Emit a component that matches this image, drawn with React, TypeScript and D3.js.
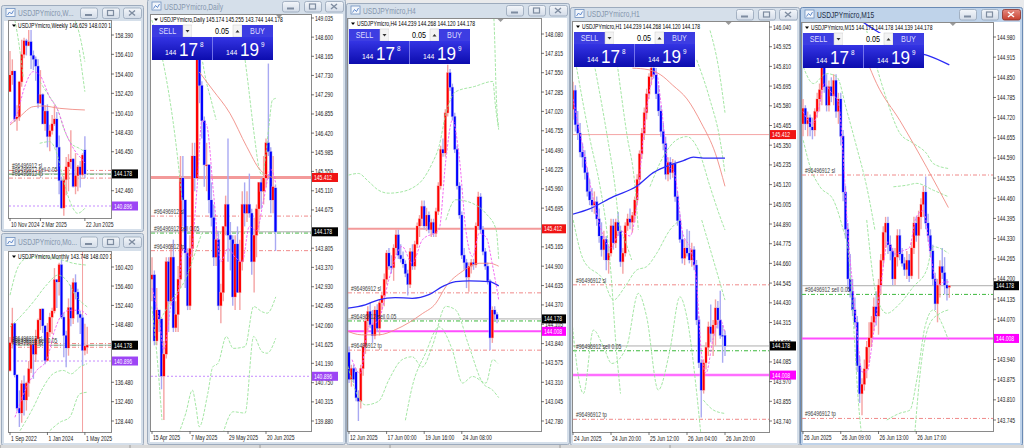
import React from 'react';
import * as d3 from 'd3';

const FONT = "'Liberation Sans', Arial, sans-serif";
const SX = 0.72;

// ---------- price levels ----------
const SL = 144.535;
const SELL = 144.15;
const TP = 143.75;
const ALERT = 145.412;
const MAG = 144.008;
const PURP = 140.896;
const BID = 144.178;

// ---------- Weekly ----------
const weeklyCandles = [
  [152.6, 156.75, 152.6, 154.3], [154.3, 155.9, 153.3, 154.7], [154.7, 154.7, 149.5, 149.8], [149.8, 151.2, 148.6, 150.0],
  [150.0, 153.7, 149.6, 153.6], [153.6, 157.9, 153.1, 156.4], [156.4, 158.1, 156.0, 157.8], [157.8, 158.0, 156.3, 157.3],
  [157.3, 158.9, 157.3, 157.7], [157.7, 158.9, 154.9, 156.3], [156.3, 156.8, 154.8, 155.9], [155.9, 156.2, 153.7, 155.2],
  [155.2, 155.9, 150.9, 151.4], [151.4, 154.8, 151.3, 152.3], [152.3, 152.4, 149.3, 149.3], [149.3, 151.2, 148.6, 150.6],
  [150.6, 151.3, 146.9, 148.0], [148.0, 149.2, 146.5, 148.6], [148.6, 150.2, 148.2, 149.3], [149.3, 151.2, 149.1, 149.8],
  [149.8, 150.5, 144.6, 146.9], [146.9, 148.1, 142.1, 143.5], [143.5, 143.9, 140.6, 140.7], [140.7, 144.0, 139.9, 143.6],
  [143.6, 145.9, 142.0, 144.9], [144.9, 146.2, 142.4, 145.4], [145.4, 148.65, 144.7, 145.7], [145.7, 145.8, 142.8, 142.9],
  [142.9, 146.3, 142.1, 144.0], [144.0, 145.1, 142.4, 144.9], [144.9, 145.5, 142.8, 144.1], [144.1, 146.3, 143.9, 146.1],
  [146.629, 148.02, 143.744, 144.178],
];
const weeklyTicks = [158.39, 156.41, 154.4, 152.42, 150.41, 148.43, 146.45, 142.46];
const weeklyTimes: [string, number][] = [['10 Nov 2024', 0], ['2 Mar 2025', 13], ['22 Jun 2025', 32]];
const weeklyPink = [[0, 149.36], [2.8, 150.21], [6.3, 153.11], [9.9, 154.64], [12.7, 154.3], [16.9, 152.08], [20.4, 150.72], [23.9, 148.33], [27.5, 146.63], [31, 145.61], [32, 145.3]];
const weeklySalmon = [[0, 149.18], [4.2, 150.04], [9.9, 151.06], [14.1, 151.13], [21.1, 150.89], [32, 150.72]];
const weeklyGreenA = [[12.7, 153.62], [16.9, 152.08], [20.4, 150.72], [23.2, 148.67], [26.1, 147.31], [29.6, 146.8], [32, 146.46]];
const weeklyGreenB = [[12.7, 147.31], [16.9, 147.48], [20.4, 145.95], [22.5, 143.9], [25.4, 141.51], [28.9, 140.15], [32, 140.66]];
const weeklyGreenC = [[26.1, 160.6], [29.6, 158.56], [32, 155.66]];
const weeklyGreenD = [[29.6, 156.86], [32, 152.59]];
const weeklyGreenE = [[2.1, 159.9], [4.2, 156.86], [5.6, 154.13]];

// ---------- Monthly ----------
const monthlyCandles = [
  [138.9, 145.9, 138.7, 144.7], [144.7, 151.95, 143.5, 148.7], [148.7, 148.8, 137.5, 138.0], [138.0, 138.2, 130.5, 131.1],
  [131.1, 134.8, 127.2, 130.1], [130.1, 136.9, 128.1, 136.2], [136.2, 137.9, 129.6, 132.8], [132.8, 136.6, 130.6, 136.3],
  [136.3, 140.9, 133.5, 139.3], [139.3, 145.0, 138.4, 144.3], [144.3, 144.9, 137.2, 142.3], [142.3, 147.4, 140.7, 145.5],
  [145.5, 149.7, 144.4, 149.4], [149.4, 151.7, 147.3, 151.7], [151.7, 151.9, 146.7, 148.2], [148.2, 148.3, 140.2, 141.0],
  [141.0, 148.8, 140.8, 146.9], [146.9, 150.9, 145.9, 150.0], [150.0, 151.97, 146.5, 151.3], [151.3, 160.2, 150.8, 157.8],
  [157.8, 157.9, 151.9, 157.3], [157.3, 161.3, 154.5, 160.9], [160.9, 161.95, 149.6, 150.0], [150.0, 150.9, 141.7, 146.2],
  [146.2, 147.2, 139.6, 143.6], [143.6, 153.9, 142.0, 152.0], [152.0, 156.75, 148.1, 149.8], [149.8, 158.1, 148.6, 157.2],
  [157.2, 158.9, 153.7, 155.2], [155.2, 155.9, 148.9, 150.6], [150.6, 151.3, 146.5, 149.9], [149.9, 150.5, 139.9, 143.1],
  [143.1, 148.65, 142.1, 144.0], [143.748, 148.02, 142.4, 144.178],
];
const monthlyTicks = [160.42, 156.46, 152.44, 148.48, 136.48, 132.46, 128.44];
const monthlyTimes: [string, number][] = [['1 Sep 2022', 0], ['1 Jan 2024', 16], ['1 May 2025', 32]];
const monthlyPink = [[2.1, 129.21], [7.1, 135.46], [11.4, 138.94], [15.6, 141.02], [19.1, 147.27], [22, 150.4], [25.5, 151.44], [29.8, 151.44], [33, 150.4]];
const monthlyGreenTop = [[0, 154.58], [3.5, 160.49], [7.1, 162.2], [14.2, 162.55], [21.3, 162.0], [27, 161.2], [33, 160.8]];
const monthlyGreen2 = [[0, 147.98], [5.7, 150.76], [10, 153.19], [15.6, 156.67], [20.6, 158.75], [24.1, 157.7], [28.4, 154.23], [33, 152.14]];
const monthlyGreenLow = [[4.3, 126.43], [10, 131.3], [14.2, 135.46], [18.4, 138.24], [22.7, 138.94], [26.2, 138.24], [29.8, 139.63], [33, 140.33]];
const monthlyGreenLow2 = [[17, 126.43], [21.3, 128.17], [25.5, 129.21], [29.8, 134.07], [33, 134.42]];
const monthlyVLines = [31];

// ---------- Daily ----------
const dailyCandles = [
  [143.1, 143.6, 142.6, 143.2], [143.2, 143.3, 141.6, 141.7], [141.7, 142.9, 141.6, 142.4], [142.4, 142.4, 141.9, 142.2],
  [142.2, 142.2, 140.6, 140.9], [140.9, 141.7, 139.9, 141.4], [141.4, 143.6, 141.3, 143.5], [143.5, 143.6, 141.9, 142.6],
  [142.6, 143.9, 142.5, 143.6], [143.6, 144.0, 141.9, 142.0], [142.0, 142.6, 141.9, 142.3], [142.3, 143.4, 141.9, 143.1],
  [143.1, 145.9, 142.9, 145.4], [145.4, 145.9, 144.3, 144.9], [144.9, 144.9, 142.9, 143.7], [143.7, 143.8, 142.4, 142.5],
  [142.5, 144.1, 142.4, 143.8], [143.8, 146.2, 143.6, 145.9], [145.9, 146.2, 145.1, 145.4], [145.4, 148.6, 145.4, 148.4],
  [148.4, 148.6, 147.1, 147.5], [147.5, 147.6, 146.3, 146.7], [146.7, 146.8, 145.2, 145.7], [145.7, 146.2, 145.1, 145.7],
  [145.7, 145.7, 144.6, 144.9], [144.9, 145.3, 144.3, 144.5], [144.5, 144.8, 143.4, 143.6], [143.6, 144.3, 143.4, 144.0],
  [144.0, 144.2, 142.4, 142.5], [142.5, 143.0, 142.1, 142.8], [142.8, 144.3, 142.6, 144.3], [144.3, 145.0, 144.1, 144.8],
  [144.8, 146.3, 143.5, 144.1], [144.1, 144.4, 143.3, 144.0], [144.0, 144.1, 142.5, 142.7], [142.7, 144.1, 142.4, 143.9],
  [143.9, 144.3, 142.8, 142.8], [142.8, 144.0, 142.4, 143.5], [143.5, 145.1, 143.3, 144.8], [144.8, 145.3, 144.3, 144.6],
  [144.6, 145.1, 144.4, 144.8], [144.8, 145.5, 144.5, 144.6], [144.6, 144.7, 143.2, 143.5], [143.5, 144.5, 142.8, 144.1],
  [144.1, 144.8, 143.6, 144.7], [144.7, 145.3, 144.2, 145.3], [145.3, 145.4, 144.7, 145.1], [145.1, 145.9, 144.8, 145.4],
  [145.4, 146.3, 145.2, 146.2], [146.2, 148.0, 145.9, 146.0], [146.0, 146.1, 144.6, 144.9], [144.9, 145.9, 144.6, 145.2],
  [145.174, 145.255, 143.744, 144.178],
];
const dailyTicks = [149.035, 148.6, 148.165, 147.73, 147.29, 146.855, 146.42, 145.985, 145.55, 145.11, 144.675, 143.805, 143.37, 142.93, 142.495, 142.06, 141.625, 141.19, 140.75, 140.315, 139.88];
const dailyTimes: [string, number][] = [['15 Apr 2025', 0], ['7 May 2025', 16], ['29 May 2025', 32], ['20 Jun 2025', 48]];
const dailySalmon = [[19.9, 147.81], [25.6, 147.4], [32.8, 146.87], [39.9, 146.11], [45.6, 145.58], [52.1, 145.39]];
const dailyPink = [[0, 142.9], [3, 142.2], [5, 141.5], [8, 142.5], [11, 142.8], [13, 143.8], [16, 143.6], [19, 145.2], [21, 146.7], [23, 146.6], [26, 145.0], [29, 143.5], [32, 143.8], [35, 143.6], [38, 143.5], [41, 144.3], [44, 144.2], [47, 144.9], [50, 145.6], [52, 145.3]];
const dailyG1 = [[-0.1, 148.99], [5.6, 147.78], [9.9, 146.26], [12.7, 144.9]];
const dailyG2 = [[39.2, 148.08], [40.6, 147.48], [42.1, 146.79], [43.5, 146.19], [44.9, 145.66], [46.4, 145.47], [47.8, 145.88], [49.2, 146.57], [50.7, 147.17], [52.1, 147.21]];
const dailyG3 = [[21.3, 148.04], [22.7, 147.63], [24.9, 147.17], [27, 146.72]];
const dailyG4 = [[-0.1, 142.48], [2, 141.42], [4.2, 139.9]];
const dailyG5 = [[11.3, 139.6], [14.2, 140.05], [17, 140.58], [18.5, 140.21], [19.9, 139.75], [23.5, 140.51], [25.6, 141.11], [27.8, 141.19], [31.3, 141.8], [34.2, 141.53], [39.2, 141.57], [42.8, 142.48], [46.4, 142.36], [48.5, 142.33], [52.1, 142.7]];
const dailyG6 = [[29.9, 139.6], [34.2, 140.09], [39.2, 140.06], [42.8, 141.8], [46.4, 141.45], [48.5, 141.42], [52.1, 141.76]];
const dailyG7 = [[2.7, 142.1], [8.3, 142.63], [13.9, 143.08], [18.1, 143.69], [20.9, 144.14]];

// ---------- H4 ----------
const h4Candles = [
  [143.72, 143.8, 143.3, 143.35], [143.35, 143.55, 143.25, 143.5], [143.5, 143.55, 143.3, 143.35], [143.45, 143.5, 143.05, 143.1],
  [143.1, 143.2, 142.78, 143.05], [143.05, 143.55, 142.95, 143.5], [143.5, 143.85, 143.4, 143.8], [143.8, 144.2, 143.7, 144.15],
  [144.15, 144.35, 144.0, 144.28], [144.28, 144.4, 144.05, 144.1], [144.1, 144.3, 143.85, 143.95], [143.95, 144.35, 143.9, 144.3],
  [144.3, 144.38, 144.0, 144.05], [144.05, 144.45, 143.95, 144.4], [144.4, 144.55, 144.3, 144.5], [144.5, 144.8, 144.35, 144.72],
  [144.72, 145.12, 144.65, 145.08], [145.08, 145.15, 144.85, 144.9], [144.9, 145.05, 144.8, 144.88], [144.88, 145.2, 144.7, 145.15],
  [145.15, 145.4, 145.05, 145.33], [145.33, 145.4, 145.0, 145.05], [145.05, 145.2, 144.95, 145.0], [145.0, 145.1, 144.88, 144.93],
  [144.93, 144.98, 144.75, 144.8], [144.8, 144.85, 144.5, 144.65], [144.65, 145.15, 144.6, 145.1], [145.1, 145.2, 144.85, 144.9],
  [144.9, 145.25, 144.85, 145.2], [145.2, 145.5, 145.15, 145.45], [145.45, 145.6, 145.3, 145.55], [145.55, 145.8, 145.45, 145.72],
  [145.72, 145.8, 145.4, 145.45], [145.45, 145.7, 145.38, 145.6], [145.6, 145.65, 145.35, 145.4], [145.4, 145.55, 145.3, 145.5],
  [145.5, 145.55, 145.3, 145.35], [145.35, 145.7, 145.3, 145.65], [145.65, 146.05, 145.6, 146.0], [146.0, 146.55, 145.95, 146.5],
  [146.5, 146.65, 146.4, 146.45], [146.45, 147.05, 146.4, 147.0], [147.0, 147.66, 146.95, 147.55], [147.55, 147.6, 147.3, 147.35],
  [147.35, 147.4, 146.9, 146.95], [146.95, 147.0, 146.45, 146.5], [146.5, 146.55, 145.95, 146.0], [146.0, 146.05, 145.55, 145.6],
  [145.6, 145.65, 145.0, 145.05], [145.05, 145.15, 144.85, 144.95], [144.95, 145.0, 144.6, 144.75], [144.75, 144.95, 144.55, 144.9],
  [144.9, 145.0, 144.8, 144.95], [144.95, 145.0, 144.85, 144.92], [144.92, 145.5, 144.88, 145.45], [145.45, 145.92, 145.4, 145.85],
  [145.85, 145.9, 145.35, 145.4], [145.4, 145.45, 145.05, 145.1], [145.1, 145.15, 144.85, 144.9], [144.9, 144.95, 144.65, 144.7],
  [144.7, 144.72, 143.75, 143.92], [143.92, 144.35, 143.85, 144.3], [144.3, 144.35, 144.15, 144.24], [144.239, 144.268, 144.12, 144.178],
];
const h4Ticks = [148.08, 147.815, 147.55, 147.285, 147.02, 146.755, 146.49, 146.225, 145.96, 145.695, 145.165, 144.9, 144.635, 144.37, 144.105, 143.84, 143.575, 143.31, 143.045, 142.78];
const h4Times: [string, number][] = [['12 Jun 2025', 0], ['17 Jun 00:00', 16], ['19 Jun 16:00', 32], ['24 Jun 08:00', 48]];
const h4Blue = [[-2, 144.32], [6.9, 144.37], [12.6, 144.44], [19.7, 144.47], [26.9, 144.46], [34, 144.51], [39.7, 144.62], [45.4, 144.69], [51.2, 144.7], [59.7, 144.69], [63.7, 144.63]];
const h4Salmon = [[-2, 144.03], [5.4, 143.96], [12.6, 143.96], [19.7, 144.03], [31.2, 144.25], [36.9, 144.39], [41.2, 144.62], [48.3, 144.83], [55.4, 144.94], [59.7, 144.94], [63.7, 144.9]];
const h4Pink = [[1.3, 143.62], [4.7, 143.43], [8.3, 144.07], [12.6, 144.16], [16.9, 144.71], [22.6, 145.17], [26.9, 144.94], [31.2, 145.26], [38.3, 145.4], [41.2, 146.35], [44, 146.9], [46.9, 146.4], [49.7, 145.4], [52.6, 145.03], [55.4, 145.35], [58.3, 145.3], [61.2, 144.89], [63.7, 144.44]];
const h4U1 = [[61.2, 148.6], [62, 148.0], [62.6, 147.3], [63.7, 146.8]];
const h4U2 = [[-2, 146.13], [4, 146.17], [8.3, 146.06], [12.6, 145.94], [16.9, 145.9], [22.6, 145.92], [26.9, 145.97], [31.2, 146.08], [35.4, 146.31], [38.3, 146.54], [41.3, 147.0], [45.4, 147.29], [53.3, 147.36], [61.2, 147.43], [62.3, 147.1], [63.7, 146.77]];
const h4M1 = [[41.2, 145.53], [45.4, 145.81], [52.6, 145.76], [58.3, 145.62], [62.6, 145.4], [63.7, 145.0]];
const h4L1 = [[-2, 143.71], [4, 143.11], [6.9, 143.0], [12.6, 143.05], [16.9, 143.34], [22.6, 143.62], [26.9, 143.66], [31.2, 143.52], [35.4, 143.8], [41.2, 144.35], [45.4, 144.3], [51.1, 143.8], [56.9, 143.3], [61.2, 143.2], [63.7, 143.1]];
const h4L2 = [[24, 142.79], [26.9, 143.25], [32.6, 143.71], [38.3, 144.07], [44, 143.75], [48.3, 143.3], [52.6, 143.39], [58.3, 143.3], [61.2, 143.62], [63.3, 143.57]];

// ---------- H1 ----------
const h1Candles = [
  [145.56, 145.72, 145.5, 145.67], [145.67, 145.7, 145.43, 145.47], [145.47, 145.55, 145.38, 145.42], [145.42, 145.48, 145.28, 145.31],
  [145.31, 145.36, 145.22, 145.28], [145.28, 145.32, 145.15, 145.19], [145.19, 145.22, 145.05, 145.08], [145.08, 145.15, 145.0, 145.03],
  [145.03, 145.1, 144.96, 145.0], [145.0, 145.08, 144.95, 145.02], [145.02, 145.05, 144.88, 144.92], [144.92, 144.98, 144.78, 144.82],
  [144.82, 144.9, 144.7, 144.74], [144.74, 144.85, 144.68, 144.8], [144.8, 144.82, 144.62, 144.68], [144.68, 144.76, 144.6, 144.72],
  [144.72, 144.92, 144.7, 144.88], [144.88, 144.92, 144.74, 144.78], [144.78, 144.92, 144.75, 144.9], [144.9, 144.96, 144.82, 144.85],
  [144.85, 144.88, 144.64, 144.67], [144.67, 144.75, 144.6, 144.72], [144.72, 144.9, 144.7, 144.88], [144.88, 144.95, 144.85, 144.92],
  [144.92, 144.98, 144.86, 144.9], [144.9, 144.96, 144.84, 144.94], [144.94, 145.05, 144.9, 145.03], [145.03, 145.18, 145.0, 145.15],
  [145.15, 145.32, 145.12, 145.3], [145.3, 145.45, 145.27, 145.42], [145.42, 145.57, 145.38, 145.54], [145.54, 145.68, 145.5, 145.65],
  [145.65, 145.77, 145.62, 145.75], [145.75, 145.83, 145.7, 145.8], [145.8, 145.85, 145.74, 145.76], [145.76, 145.8, 145.62, 145.65],
  [145.65, 145.7, 145.52, 145.55], [145.55, 145.58, 145.4, 145.43], [145.43, 145.48, 145.32, 145.36], [145.36, 145.4, 145.15, 145.18],
  [145.18, 145.28, 145.14, 145.25], [145.25, 145.28, 145.15, 145.19], [145.19, 145.27, 145.16, 145.24], [145.24, 145.26, 145.02, 145.05],
  [145.05, 145.08, 144.88, 144.91], [144.91, 144.95, 144.78, 144.8], [144.8, 144.85, 144.66, 144.69], [144.69, 144.8, 144.65, 144.75],
  [144.75, 144.86, 144.7, 144.72], [144.72, 144.85, 144.66, 144.68], [144.68, 144.78, 144.64, 144.74], [144.74, 144.76, 144.62, 144.65],
  [144.65, 144.68, 144.3, 144.33], [144.33, 144.35, 144.05, 144.08], [144.08, 144.1, 143.76, 143.92], [143.92, 144.1, 143.9, 144.08],
  [144.08, 144.2, 144.04, 144.17], [144.17, 144.32, 144.12, 144.29], [144.29, 144.42, 144.2, 144.25], [144.25, 144.33, 144.12, 144.3],
  [144.3, 144.45, 144.18, 144.4], [144.4, 144.44, 144.28, 144.33], [144.33, 144.5, 144.22, 144.24], [144.24, 144.3, 144.08, 144.239],
  [144.239, 144.268, 144.12, 144.178],
];
const h1Ticks = [146.04, 145.925, 145.81, 145.695, 145.58, 145.465, 145.35, 145.235, 145.12, 145.005, 144.89, 144.775, 144.66, 144.545, 144.43, 144.315, 144.2, 144.085, 143.97, 143.855, 143.74];
const h1Times: [string, number][] = [['24 Jun 2025', 0], ['24 Jun 20:00', 16], ['25 Jun 12:00', 32], ['26 Jun 04:00', 48], ['26 Jun 20:00', 64]];
const h1Blue = [[-2, 144.94], [7.2, 144.98], [17, 145.05], [26.8, 145.11], [33.8, 145.19], [40.8, 145.235], [46.5, 145.26], [50.7, 145.28], [54.9, 145.275], [64, 145.275]];
const h1Salmon = [[25, 145.8], [32, 145.79], [37, 145.76], [42, 145.7], [48, 145.62], [54, 145.48], [60, 145.3], [64, 145.11]];
const h1Pink = [[0, 145.62], [4, 145.35], [8, 145.07], [12, 144.85], [16, 144.75], [20, 144.85], [24, 144.82], [27, 145.02], [30, 145.45], [33, 145.72], [35, 145.78], [37, 145.6], [40, 145.25], [43, 145.17], [46, 144.85], [50, 144.72], [52, 144.55], [54, 144.15], [56, 144.02], [59, 144.22], [62, 144.33], [64, 144.25]];
const h1D1 = [[0.8, 145.858], [7.2, 145.381], [11.4, 145.108], [14.2, 144.855], [16, 144.6], [18, 144.2], [20, 143.9]];
const h1D2 = [[8.6, 145.848], [14.2, 145.42], [17.7, 145.108], [19.8, 144.855], [21.2, 144.816], [24.7, 144.68]];
const h1D3 = [[18.4, 145.848], [22.6, 145.42], [26.1, 145.108], [27.5, 144.855]];
const h1U1 = [[57.7, 146.02], [61.2, 145.81], [64, 145.54]];
const h1U2 = [[52.1, 145.848], [57.7, 145.614], [61.9, 145.381], [64, 145.186]];
const h1M1 = [[32.4, 145.108], [38, 145.283], [43.6, 145.381], [47.9, 145.4], [52.8, 145.322], [57.7, 145.108], [61.9, 144.933], [64, 144.855]];
const h1M2 = [[54.2, 144.913], [59.1, 144.68], [64, 144.446]];
const h1L1 = [[0.1, 144.913], [4.4, 144.68], [12.8, 144.563], [17, 144.446], [21.9, 144.524], [26.8, 144.621], [31, 144.641], [35.2, 144.718], [40.8, 144.855], [45, 144.913]];
const h1L2 = [[-1.3, 144.446], [4.4, 143.901], [8.6, 144.271], [12.8, 144.174], [16.3, 144.076], [22.6, 144.174], [27.5, 144.485], [31, 144.349], [35.9, 143.921], [40.8, 144.154], [45, 144.465], [47.9, 144.349], [52.1, 143.901], [53.8, 143.668]];
const h1L3 = [[54.9, 143.862], [59.1, 143.804], [64, 143.784]];

// ---------- M15 ----------
const m15Candles = [
  [144.7, 144.78, 144.66, 144.75], [144.75, 144.76, 144.68, 144.7], [144.7, 144.74, 144.66, 144.72], [144.72, 144.73, 144.66, 144.69],
  [144.69, 144.72, 144.65, 144.68], [144.68, 144.75, 144.66, 144.74], [144.74, 144.8, 144.72, 144.78], [144.78, 144.83, 144.74, 144.81],
  [144.81, 144.9, 144.76, 144.88], [144.88, 144.91, 144.8, 144.82], [144.82, 144.86, 144.74, 144.76], [144.76, 144.84, 144.74, 144.82],
  [144.82, 144.85, 144.77, 144.79], [144.79, 144.86, 144.76, 144.84], [144.84, 144.86, 144.72, 144.74], [144.74, 144.8, 144.7, 144.78],
  [144.78, 144.8, 144.63, 144.66], [144.66, 144.68, 144.45, 144.48], [144.48, 144.5, 144.33, 144.36], [144.36, 144.38, 144.16, 144.2],
  [144.2, 144.28, 144.14, 144.16], [144.16, 144.2, 144.08, 144.1], [144.1, 144.14, 144.04, 144.06], [144.06, 144.08, 143.9, 143.92],
  [143.92, 143.95, 143.8, 143.83], [143.83, 143.88, 143.76, 143.86], [143.86, 143.94, 143.84, 143.91], [143.91, 144.0, 143.88, 143.98],
  [143.98, 144.06, 143.93, 144.01], [144.01, 144.08, 143.98, 144.06], [144.06, 144.14, 144.03, 144.11], [144.11, 144.16, 144.05, 144.08],
  [144.08, 144.2, 144.02, 144.18], [144.18, 144.28, 144.15, 144.26], [144.26, 144.37, 144.24, 144.35], [144.35, 144.4, 144.3, 144.38],
  [144.38, 144.4, 144.28, 144.31], [144.31, 144.34, 144.26, 144.29], [144.29, 144.3, 144.18, 144.2], [144.2, 144.3, 144.18, 144.27],
  [144.27, 144.36, 144.24, 144.34], [144.34, 144.36, 144.26, 144.28], [144.28, 144.3, 144.24, 144.25], [144.25, 144.27, 144.21, 144.23],
  [144.23, 144.29, 144.2, 144.26], [144.26, 144.28, 144.19, 144.21], [144.21, 144.32, 144.2, 144.3], [144.3, 144.4, 144.28, 144.38],
  [144.38, 144.4, 144.32, 144.34], [144.34, 144.42, 144.2, 144.4], [144.4, 144.46, 144.36, 144.44], [144.44, 144.5, 144.4, 144.48],
  [144.48, 144.53, 144.36, 144.38], [144.38, 144.41, 144.32, 144.34], [144.34, 144.36, 144.27, 144.29], [144.29, 144.31, 144.18, 144.2],
  [144.2, 144.22, 144.1, 144.12], [144.12, 144.2, 144.06, 144.18], [144.18, 144.26, 144.14, 144.24], [144.24, 144.3, 144.2, 144.22],
  [144.22, 144.27, 144.15, 144.18], [144.18, 144.2, 144.13, 144.17], [144.173, 144.178, 144.139, 144.178],
];
const m15Ticks = [144.98, 144.915, 144.85, 144.785, 144.72, 144.655, 144.59, 144.525, 144.46, 144.395, 144.33, 144.265, 144.2, 144.135, 144.07, 143.94, 143.875, 143.81, 143.745];
const m15Times: [string, number][] = [['26 Jun 2025', 0], ['26 Jun 09:00', 16], ['26 Jun 13:00', 32], ['26 Jun 17:00', 48]];
const m15Blue = [[25, 145.03], [31, 145.0], [40, 144.96], [48, 144.93], [53, 144.92], [62, 144.89]];
const m15Salmon = [[27, 144.905], [31.2, 144.83], [41.1, 144.71], [52.4, 144.56], [61.6, 144.43]];
const m15Pink = [[0, 144.74], [4, 144.7], [7, 144.76], [9, 144.83], [12, 144.8], [15, 144.77], [17, 144.6], [19, 144.35], [21, 144.18], [23, 144.02], [25, 143.9], [27, 143.9], [30, 144.03], [33, 144.18], [36, 144.32], [39, 144.28], [42, 144.29], [45, 144.3], [48, 144.4], [51, 144.42], [54, 144.28], [57, 144.18], [60, 144.19], [62, 144.19]];
const m15U1 = [[27, 145.0], [31.2, 144.884], [35.5, 144.777], [41.1, 144.669], [46.8, 144.637], [52.4, 144.604], [55.2, 144.572], [61.6, 144.556]];
const m15U2 = [[38.3, 144.497], [43.9, 144.502], [48.2, 144.508], [55.2, 144.486], [61.6, 144.465]];
const m15U3 = [[0.1, 144.884], [4.4, 144.83], [10, 144.862], [14.3, 144.852], [18.5, 144.744], [22.7, 144.626], [27, 144.497], [30.5, 144.357]];
const m15L1 = [[0.1, 144.647], [3, 144.562], [7.2, 144.497], [12.9, 144.454], [17.1, 144.357], [19, 144.3], [21.3, 144.068], [23.4, 143.81], [25.6, 143.648]];
const m15L2 = [[27, 144.39], [31.2, 144.143], [35.5, 144.089], [41.1, 144.121], [46.8, 144.175], [52.4, 144.229], [55.2, 144.304], [61.6, 144.283]];
const m15L3 = [[35.5, 143.745], [41.1, 143.767], [45.3, 143.777], [48.2, 143.874], [51.7, 144.046], [55.2, 144.1], [58.1, 144.068], [61.6, 144.003]];
const m15L4 = [[46.8, 143.648], [50.3, 143.939], [53.8, 144.057], [58.1, 144.089], [61.6, 144.1]];

// ---------- styles ----------
const GREEN = { color: '#93e293', width: 0.85, dash: '3,1.5' };
const PINK = { color: '#f25cf2', width: 0.9, dash: '2.5,1.5' };
const SALMON = { color: '#f08c84', width: 0.9 };
const BLUE = { color: '#2b2bf5', width: 1.3 };

type Series = { pts: number[][]; color: string; width: number; dash?: string };
type Level = { price: number; color: string; width: number; dash?: string; label?: string };
type Box = { price: number; bg: string };

interface PanelCfg {
  id: string;
  frame: number[];
  th: number;
  title: string;
  active?: boolean;
  plot: number[];
  yAnchor: number[];
  xStart: number;
  step: number;
  bodyW: number;
  candles: number[][];
  ticks: number[];
  times: [string, number][];
  info: string;
  series: Series[];
  levels: Level[];
  boxes: Box[];
  trade?: boolean;
  vlines?: number[];
  mark?: boolean;
}

const orderLevels = (): Level[] => [
  { price: SL, color: '#f08a8a', width: 1, dash: '4,2,1,2', label: '#96496912 sl' },
  { price: SELL, color: '#3cb83c', width: 1, dash: '4,2,1,2', label: '#96496912 sell 0.05' },
  { price: TP, color: '#f08a8a', width: 1, dash: '4,2,1,2', label: '#96496912 tp' },
];
const bidLevel: Level = { price: BID, color: '#adadad', width: 1 };
const purpLevel: Level = { price: PURP, color: '#c58cff', width: 1, dash: '2,2' };

function T(props: { x: number; y: number; s?: number; c?: string; a?: string; sx?: number; w?: string; children: any }) {
  const { x, y, s = 7, c = '#000', a = 'start', sx = SX, w = 'normal', children } = props;
  return (
    <text transform={`translate(${x},${y}) scale(${sx},1)`} fontSize={s} fill={c} textAnchor={a as any} fontFamily={FONT} fontWeight={w}>
      {children}
    </text>
  );
}

function Frame({ f, th, title, active }: { f: number[]; th: number; title: string; active?: boolean }) {
  const [x, y, w, h] = f;
  const bg = active ? '#bfd3ea' : '#d5dfea';
  const by = y + Math.max(2, th / 2 - 5.5);
  const btn = (bx: number, bw: number, kind: string) => {
    const red = active && kind === 'close';
    const cx = bx + bw / 2;
    const cy = by + 5.5;
    return (
      <g key={kind}>
        <rect x={bx + 0.5} y={by + 0.5} width={bw} height={10.5} rx={2} fill={red ? 'url(#gRed)' : 'url(#gBtn)'} stroke={red ? '#8a3128' : '#95a4b8'} strokeWidth={0.8} />
        {kind === 'min' && <rect x={cx - 3.5} y={cy + 1} width={7} height={2} fill="#7e8ca0" />}
        {kind === 'max' && <rect x={cx - 3} y={cy - 2.5} width={6} height={5} fill="none" stroke="#7e8ca0" strokeWidth={1.2} />}
        {kind === 'close' && (
          <path d={`M${cx - 3},${cy - 2.5}L${cx + 3},${cy + 2.5}M${cx + 3},${cy - 2.5}L${cx - 3},${cy + 2.5}`} stroke={red ? '#fff' : '#7e8ca0'} strokeWidth={1.4} />
        )}
      </g>
    );
  };
  return (
    <g>
      <rect x={x + 0.5} y={y + 0.5} width={w - 1} height={h - 1} fill={bg} stroke={active ? '#6a8ab4' : '#9dabbd'} rx={2} />
      <rect x={x + 5} y={y + th / 2 - 4.5} width={9} height={8} fill="#f2f6fb" stroke="#6e90bf" strokeWidth={0.8} />
      <path d={`M${x + 6.5},${y + th / 2 + 2}L${x + 8.5},${y + th / 2 - 1}L${x + 10.5},${y + th / 2 + 1}L${x + 12.5},${y + th / 2 - 2.5}`} fill="none" stroke="#3c6fc0" strokeWidth={0.8} />
      <T x={x + 17} y={y + th / 2 + 3.2} s={9.5} c={active ? '#1d2c45' : '#8596ad'} sx={0.7}>
        {title}
      </T>
      {btn(x + w - 64, 17, 'min')}
      {btn(x + w - 42, 17, 'max')}
      {btn(x + w - 21, 18, 'close')}
    </g>
  );
}

function TradePanel({ x, y }: { x: number; y: number }) {
  return (
    <g transform={`translate(${x},${y})`}>
      <rect x={0} y={0} width={31} height={12} fill="#3d3de2" />
      <T x={15.5} y={9} s={8.5} c="#dcdcff" a="middle" sx={0.85}>SELL</T>
      <rect x={31} y={0} width={9} height={12} fill="#f3f3f3" stroke="#c9c9c9" strokeWidth={0.5} />
      <path d="M33.5,5 L37.5,5 L35.5,7.5Z" fill="#333" />
      <rect x={40} y={0} width={42} height={12} fill="#ffffff" />
      <T x={77} y={9} s={8.5} a="end" sx={0.85}>0.05</T>
      <rect x={81} y={0} width={9} height={12} fill="#f3f3f3" stroke="#c9c9c9" strokeWidth={0.5} />
      <path d="M83.5,7.5 L87.5,7.5 L85.5,5Z" fill="#333" />
      <rect x={90} y={0} width={31} height={12} fill="#3d3de2" />
      <T x={105.5} y={9} s={8.5} c="#dcdcff" a="middle" sx={0.85}>BUY</T>
      <rect x={0} y={12} width={60.5} height={23} fill="url(#gTrade)" />
      <rect x={60.5} y={12} width={60.5} height={23} fill="url(#gTrade)" />
      <line x1={60.5} x2={60.5} y1={12} y2={35} stroke="#7b7bf0" strokeWidth={0.8} />
      <T x={13} y={30} s={8} c="#fff" sx={0.85}>144</T>
      <T x={27} y={30.5} s={19} c="#fff" sx={0.9}>17</T>
      <T x={48} y={21.5} s={7.5} c="#fff" sx={0.85}>8</T>
      <T x={74} y={30} s={8} c="#fff" sx={0.85}>144</T>
      <T x={88} y={30.5} s={19} c="#fff" sx={0.9}>19</T>
      <T x={109} y={21.5} s={7.5} c="#fff" sx={0.85}>9</T>
    </g>
  );
}

function Panel({ c }: { c: PanelCfg }) {
  const [fx, fy, fw, fh] = c.frame;
  const [px0, py0, px1, py1] = c.plot;
  const y = d3.scaleLinear().domain([c.yAnchor[0], c.yAnchor[2]]).range([c.yAnchor[1], c.yAnchor[3]]);
  const x = d3.scaleLinear().domain([0, 1]).range([c.xStart, c.xStart + c.step]);
  const line = d3.line<number[]>().x((d) => x(d[0])).y((d) => y(d[1])).curve(d3.curveMonotoneX);
  const clipId = `clip-${c.id}`;
  const bw = c.bodyW;
  const clientR = fx + fw - 3;
  const last = c.candles.length - 1;
  return (
    <g>
      <Frame f={c.frame} th={c.th} title={c.title} active={c.active} />
      <rect x={fx + 3} y={fy + c.th} width={fw - 6} height={fh - c.th - 3} fill="#ffffff" />
      <defs>
        <clipPath id={clipId}>
          <rect x={px0} y={py0} width={px1 - px0} height={py1 - py0} />
        </clipPath>
      </defs>
      <g clipPath={`url(#${clipId})`}>
        {(c.vlines || []).map((v, i) => (
          <line key={'v' + i} x1={x(v)} x2={x(v)} y1={py0} y2={py1} stroke="#f4a0a0" strokeWidth={1} />
        ))}
        {c.levels.map((l, i) => (
          <line key={'l' + i} x1={px0} x2={px1} y1={y(l.price)} y2={y(l.price)} stroke={l.color} strokeWidth={l.width} strokeDasharray={l.dash} />
        ))}
        {c.candles.map((d, i) => {
          const [o, h, lo, cl] = d;
          const up = cl >= o;
          const cx = x(i);
          const top = y(Math.max(o, cl));
          const bot = y(Math.min(o, cl));
          return (
            <g key={'c' + i}>
              <line x1={cx} x2={cx} y1={y(h)} y2={y(lo)} stroke={up ? '#f5a3a3' : '#a9a9f2'} strokeWidth={1.4} />
              <rect x={cx - bw / 2 - 0.6} y={top - 0.5} width={bw + 1.2} height={Math.max(1, bot - top) + 1} fill={up ? '#f7b5b5' : '#b5b5f5'} opacity={0.8} />
              <rect x={cx - bw / 2} y={top} width={bw} height={Math.max(1, bot - top)} fill={up ? '#ff0000' : '#0000ff'} />
            </g>
          );
        })}
        {c.series.map((s, i) => (
          <path key={'s' + i} d={line(s.pts) || ''} fill="none" stroke={s.color} strokeWidth={s.width} strokeDasharray={s.dash} />
        ))}
        {c.levels
          .filter((l) => l.label)
          .map((l, i) => (
            <T key={'ll' + i} x={px0 + 3} y={y(l.price) - 2} s={7} c="#3a3a3a">
              {l.label}
            </T>
          ))}
        <path d={`M${px0 + 3},${py0 + 3.5}L${px0 + 7},${py0 + 3.5}L${px0 + 5},${py0 + 6}Z`} fill="#000" />
        <T x={px0 + 9} y={py0 + 7} s={7} c="#000">
          {c.info}
        </T>
        {c.mark && <path d={`M${x(last + 1.5) - 3},${py0}L${x(last + 1.5) + 3},${py0}L${x(last + 1.5)},${py0 + 3}Z`} fill="#9a9a9a" />}
      </g>
      <rect x={px0 - 0.5} y={py0 - 0.5} width={px1 - px0 + 1} height={py1 - py0 + 1} fill="none" stroke="#8a8a8a" strokeWidth={1} />
      {c.ticks.map((t, i) => (
        <g key={'t' + i}>
          <line x1={px1} x2={px1 + 3} y1={y(t)} y2={y(t)} stroke="#555" strokeWidth={0.8} />
          <T x={px1 + 4} y={y(t) + 2.5} s={7} c="#1a1a1a">
            {t.toFixed(3)}
          </T>
        </g>
      ))}
      {c.boxes.map((b, i) => (
        <g key={'b' + i}>
          <rect x={px1 + 1} y={y(b.price) - 4.5} width={Math.min(26, clientR - px1 - 2)} height={9} fill={b.bg} />
          <T x={px1 + 3} y={y(b.price) + 2.5} s={7} c="#ffffff">
            {b.price.toFixed(3)}
          </T>
        </g>
      ))}
      {c.times.map(([lab, idx], i) => (
        <g key={'tm' + i}>
          <line x1={x(idx)} x2={x(idx)} y1={py1} y2={py1 + 3} stroke="#555" strokeWidth={0.8} />
          <T x={x(idx) + 1} y={py1 + 9} s={7} c="#1a1a1a">
            {lab}
          </T>
        </g>
      ))}
      {c.trade && <TradePanel x={px0 + 1} y={py0 + 10} />}
    </g>
  );
}

const g = (pts: number[][]): Series => ({ pts, ...GREEN });

const panels: PanelCfg[] = [
  {
    id: 'w', frame: [1, 5, 143, 227], th: 16, title: 'USDJPYmicro,W...', plot: [9, 21, 111, 218],
    yAnchor: [158.39, 35, 140.896, 206], xStart: 10, step: 2.34, bodyW: 2, candles: weeklyCandles,
    ticks: weeklyTicks, times: weeklyTimes, info: 'USDJPYmicro,Weekly  146.629 148.020 143.744 144.178',
    series: [g(weeklyGreenA), g(weeklyGreenB), g(weeklyGreenC), g(weeklyGreenD), g(weeklyGreenE), { pts: weeklySalmon, ...SALMON }, { pts: weeklyPink, ...PINK }],
    levels: [...orderLevels(), purpLevel, bidLevel], boxes: [{ price: BID, bg: '#000' }, { price: PURP, bg: '#9d45f5' }],
  },
  {
    id: 'm', frame: [1, 233, 143, 213], th: 18, title: 'USDJPYmicro,Mo...', plot: [9, 252, 111, 432],
    yAnchor: [160.42, 267, 128.44, 421], xStart: 10, step: 2.34, bodyW: 2, candles: monthlyCandles,
    ticks: monthlyTicks, times: monthlyTimes, info: 'USDJPYmicro,Monthly  143.748 148.020 142.400 144.178',
    series: [g(monthlyGreenTop), g(monthlyGreen2), g(monthlyGreenLow), g(monthlyGreenLow2), { pts: monthlyPink, ...PINK }],
    levels: [...orderLevels(), purpLevel, bidLevel], boxes: [{ price: BID, bg: '#000' }, { price: PURP, bg: '#9d45f5' }],
    vlines: monthlyVLines,
  },
  {
    id: 'd', frame: [147, -1, 199, 446], th: 15, title: 'USDJPYmicro,Daily', plot: [151, 15, 311, 431],
    yAnchor: [149.035, 18, 139.88, 421], xStart: 152, step: 2.375, bodyW: 2.2, candles: dailyCandles,
    ticks: dailyTicks, times: dailyTimes, info: 'USDJPYmicro,Daily  145.174 145.255 143.744 144.178',
    series: [g(dailyG1), g(dailyG2), g(dailyG3), g(dailyG4), g(dailyG5), g(dailyG6), g(dailyG7), { pts: dailySalmon, ...SALMON }, { pts: dailyPink, ...PINK }],
    levels: [{ price: ALERT, color: '#f39a9a', width: 3 }, ...orderLevels(), purpLevel, bidLevel],
    boxes: [{ price: ALERT, bg: '#f01414' }, { price: BID, bg: '#000' }, { price: PURP, bg: '#9d45f5' }], trade: true, mark: true,
  },
  {
    id: 'h4', frame: [346, 3, 224, 442], th: 15, title: 'USDJPYmicro,H4', plot: [348, 19, 541, 431],
    yAnchor: [148.08, 34, 142.78, 421], xStart: 349, step: 2.35, bodyW: 2, candles: h4Candles,
    ticks: h4Ticks, times: h4Times, info: 'USDJPYmicro,H4  144.239 144.268 144.120 144.178',
    series: [g(h4U1), g(h4U2), g(h4M1), g(h4L1), g(h4L2), { pts: h4Salmon, ...SALMON }, { pts: h4Blue, ...BLUE }, { pts: h4Pink, ...PINK }],
    levels: [{ price: ALERT, color: '#f39a9a', width: 2 }, { price: MAG, color: '#ff4dff', width: 2 }, ...orderLevels(), bidLevel],
    boxes: [{ price: ALERT, bg: '#f01414' }, { price: BID, bg: '#000' }, { price: MAG, bg: '#ff00ff' }], trade: true, mark: true,
  },
  {
    id: 'h1', frame: [570, 7, 230, 439], th: 14, title: 'USDJPYmicro,H1', plot: [573, 22, 769, 432],
    yAnchor: [146.04, 27, 143.74, 421], xStart: 573, step: 2.375, bodyW: 2, candles: h1Candles,
    ticks: h1Ticks, times: h1Times, info: 'USDJPYmicro,H1  144.239 144.268 144.120 144.178',
    series: [g(h1D1), g(h1D2), g(h1D3), g(h1U1), g(h1U2), g(h1M1), g(h1M2), g(h1L1), g(h1L2), g(h1L3), { pts: h1Salmon, ...SALMON }, { pts: h1Blue, ...BLUE }, { pts: h1Pink, ...PINK }],
    levels: [{ price: ALERT, color: '#f5a5a5', width: 1 }, { price: MAG, color: '#ff6eff', width: 2.5 }, ...orderLevels(), bidLevel],
    boxes: [{ price: ALERT, bg: '#f01414' }, { price: BID, bg: '#000' }, { price: MAG, bg: '#ff00ff' }], trade: true, mark: true,
  },
  {
    id: 'm15', frame: [800, 7, 223, 439], th: 15, title: 'USDJPYmicro,M15', active: true, plot: [802, 23, 993, 431],
    yAnchor: [144.98, 37, 143.745, 420], xStart: 803, step: 2.36, bodyW: 2, candles: m15Candles,
    ticks: m15Ticks, times: m15Times, info: 'USDJPYmicro,M15  144.173 144.178 144.139 144.178',
    series: [g(m15U1), g(m15U2), g(m15U3), g(m15L1), g(m15L2), g(m15L3), g(m15L4), { pts: m15Salmon, ...SALMON }, { pts: m15Blue, ...BLUE }, { pts: m15Pink, ...PINK }],
    levels: [{ price: MAG, color: '#ff4dff', width: 2 }, ...orderLevels(), bidLevel],
    boxes: [{ price: BID, bg: '#000' }, { price: MAG, bg: '#ff00ff' }], trade: true, mark: true,
  },
];

export default function App() {
  return (
    <svg width={1024} height={448} style={{ position: 'absolute', left: 0, top: 0, display: 'block' }} xmlns="http://www.w3.org/2000/svg">
      <defs>
        <linearGradient id="gTrade" x1="0" y1="0" x2="0" y2="1">
          <stop offset="0" stopColor="#3434e4" />
          <stop offset="1" stopColor="#0c0cae" />
        </linearGradient>
        <linearGradient id="gBtn" x1="0" y1="0" x2="0" y2="1">
          <stop offset="0" stopColor="#f3f6fa" />
          <stop offset="1" stopColor="#d3dce8" />
        </linearGradient>
        <linearGradient id="gRed" x1="0" y1="0" x2="0" y2="1">
          <stop offset="0" stopColor="#e58a80" />
          <stop offset="1" stopColor="#c7402f" />
        </linearGradient>
      </defs>
      <rect x={0} y={0} width={1024} height={448} fill="#e9eaec" />
      {panels.map((p) => (
        <Panel key={p.id} c={p} />
      ))}
      <rect x={0} y={445} width={1024} height={3} fill="#d9d9d9" />
      {[0, 130, 260, 390, 560, 670].map((v, i) => (
        <line key={i} x1={v} x2={v} y1={445} y2={448} stroke="#9a9a9a" />
      ))}
    </svg>
  );
}
